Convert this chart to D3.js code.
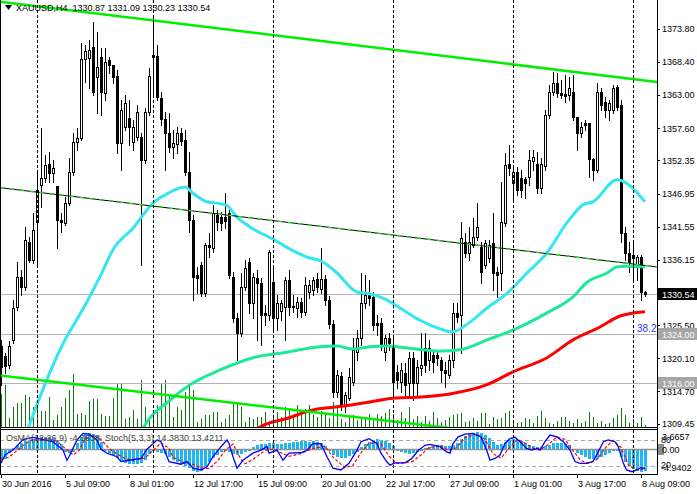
<!DOCTYPE html>
<html><head><meta charset="utf-8">
<script src="https://cdn.jsdelivr.net/npm/d3@7/dist/d3.min.js"></script>
<style>
html,body{margin:0;padding:0;background:#fff;overflow:hidden}
svg{display:block}
text{font-family:"Liberation Sans",Arial,sans-serif;font-size:9px}
</style>
</head><body>
<svg id="c" width="697" height="494"></svg>
<script>
// ---------- DATA ----------
const openP = [1322.1,1320.5,1319.0,1323.1,1328.5,1333.4,1331.7,1339.1,1336.1,1342.3,1348.3,1349.5,1351.8,1350.3,1348.2,1342.6,1342.2,1345.4,1350.5,1355.4,
1356.0,1368.9,1369.0,1370.8,1365.9,1369.2,1363.3,1368.7,1367.9,1366.1,1355.2,1357.8,1359.3,1355.4,1356.2,1356.2,1352.4,1360.2,1369.2,1369.4,
1362.5,1359.1,1356.8,1354.5,1355.0,1356.8,1355.7,1350.5,1342.6,1333.7,1335.3,1330.7,1338.6,1338.1,1343.5,1343.1,1343.1,1343.8,1333.4,1326.7,
1324.2,1331.7,1335.8,1329.1,1333.2,1332.4,1327.5,1327.2,1332.5,1326.7,1327.8,1328.5,1332.9,1328.6,1328.3,1329.3,1327.6,1330.9,1331.2,1333.0,
1331.4,1333.0,1329.6,1325.7,1314.6,1317.2,1312.5,1313.6,1316.2,1321.1,1323.4,1329.1,1330.4,1330.1,1325.9,1325.9,1321.1,1323.4,1322.3,1317.9,
1316.2,1317.7,1316.1,1320.2,1316.1,1318.5,1321.8,1319.8,1320.6,1320.6,1319.8,1318.2,1317.4,1319.8,1327.5,1327.2,1339.1,1337.3,1338.6,1339.9,
1338.2,1335.3,1336.4,1338.9,1334.2,1334.0,1342.2,1351.8,1348.7,1350.5,1349.5,1349.3,1349.6,1352.3,1351.8,1347.9,1351.4,1359.7,1363.5,1365.0,
1363.3,1363.2,1363.0,1363.5,1359.4,1356.8,1358.4,1358.4,1352.6,1350.8,1363.5,1361.9,1360.6,1360.6,1364.3,1361.4,1340.5,1337.3,1336.9,1335.3,
1336.6,1330.87];
const highP = [1323.1,1321.0,1322.9,1329.6,1335.8,1334.5,1341.5,1339.9,1343.8,1350.3,1357.6,1353.2,1353.7,1352.4,1348.2,1343.8,1346.4,1352.7,1356.8,1357.6,
1371.5,1371.1,1372.0,1374.9,1373.3,1370.7,1370.7,1369.2,1367.9,1367.1,1362.2,1363.0,1362.2,1358.9,1361.4,1356.8,1360.9,1367.4,1375.7,1371.1,
1363.5,1360.2,1360.1,1357.3,1357.8,1357.6,1357.3,1353.7,1343.5,1335.0,1335.8,1338.9,1340.5,1345.1,1344.3,1343.9,1347.0,1344.3,1334.2,1327.5,
1334.0,1336.1,1336.4,1334.0,1334.5,1333.2,1328.8,1337.8,1335.3,1330.4,1329.6,1333.4,1334.5,1330.4,1330.1,1329.9,1333.4,1332.9,1333.4,1334.0,
1338.1,1333.7,1330.3,1326.3,1318.2,1317.9,1314.6,1318.5,1323.4,1324.7,1334.0,1333.7,1332.9,1330.9,1327.2,1326.7,1323.9,1324.2,1323.6,1319.0,
1319.3,1319.3,1321.1,1321.1,1319.8,1324.2,1324.2,1323.1,1321.5,1321.5,1320.3,1319.5,1320.6,1329.1,1329.1,1342.3,1340.5,1341.5,1343.0,1345.4,
1339.1,1339.4,1339.4,1343.8,1335.0,1348.8,1353.6,1354.9,1351.3,1351.3,1350.8,1349.6,1354.0,1354.0,1353.7,1352.7,1360.6,1364.6,1366.7,1366.6,
1365.4,1366.3,1365.9,1366.3,1359.4,1358.6,1358.9,1358.4,1352.7,1365.0,1364.1,1362.7,1362.2,1364.6,1364.6,1362.2,1341.5,1339.1,1339.4,1336.9,
1336.9,1331.09];
const lowP = [1315.8,1317.7,1318.5,1322.6,1328.0,1330.4,1331.2,1335.8,1335.6,1335.3,1344.8,1348.8,1348.8,1348.8,1338.1,1340.7,1341.8,1345.1,1350.0,1354.0,
1355.7,1365.1,1364.1,1363.0,1360.1,1359.7,1362.2,1366.6,1365.0,1353.6,1350.8,1357.3,1354.9,1354.0,1355.7,1335.3,1351.9,1359.7,1362.7,1362.2,
1358.1,1350.8,1353.7,1352.7,1353.6,1354.9,1350.0,1340.7,1329.6,1330.7,1330.3,1330.3,1336.6,1337.4,1341.0,1341.0,1341.3,1333.2,1326.0,1319.8,
1323.7,1331.2,1327.5,1326.7,1323.1,1322.3,1325.5,1326.3,1324.4,1324.7,1326.3,1323.1,1327.2,1327.6,1326.8,1326.8,1327.2,1329.9,1330.4,1330.9,
1330.7,1328.8,1325.0,1313.8,1313.8,1311.7,1311.4,1313.3,1315.8,1319.8,1322.3,1328.3,1328.8,1324.7,1323.9,1321.5,1319.8,1321.5,1313.8,1315.3,
1314.6,1313.6,1313.6,1313.3,1314.1,1317.4,1317.9,1318.2,1317.9,1319.0,1316.2,1315.4,1316.9,1318.7,1326.0,1321.0,1336.6,1336.1,1338.2,1339.4,
1332.4,1334.8,1335.8,1331.2,1330.1,1331.2,1341.7,1350.0,1345.9,1346.7,1346.4,1346.2,1348.3,1350.8,1347.0,1347.0,1350.8,1359.3,1363.0,1362.7,
1362.5,1361.9,1362.2,1358.9,1354.0,1356.2,1357.3,1349.6,1349.2,1350.5,1360.6,1359.4,1358.9,1360.1,1360.6,1339.1,1336.1,1334.2,1332.9,1332.9,
1329.6,1330.23];
const closeP = [1318.7,1318.9,1322.1,1328.3,1333.4,1331.7,1339.4,1336.1,1341.0,1347.5,1349.5,1351.6,1350.3,1351.1,1342.6,1342.3,1345.4,1350.5,1355.4,1356.0,
1368.9,1370.2,1370.3,1363.5,1367.6,1363.5,1368.4,1367.9,1365.9,1355.2,1360.6,1361.7,1357.8,1357.8,1360.2,1352.4,1360.2,1366.1,1369.5,1362.7,
1359.1,1356.8,1354.5,1355.2,1356.8,1355.5,1350.5,1342.6,1333.4,1333.2,1330.7,1338.6,1338.2,1343.8,1342.3,1342.2,1342.5,1333.7,1326.7,1324.2,
1331.7,1334.8,1329.1,1333.4,1332.4,1327.2,1327.2,1337.4,1326.7,1329.1,1329.1,1332.9,1328.5,1328.5,1329.3,1327.6,1332.1,1332.1,1332.9,1331.7,
1333.0,1329.6,1325.7,1314.6,1317.4,1312.5,1314.1,1317.1,1321.5,1323.4,1329.1,1330.4,1329.9,1325.5,1325.5,1322.3,1323.4,1322.6,1316.2,1316.6,
1318.2,1315.8,1320.2,1316.1,1318.7,1319.0,1319.0,1321.8,1319.5,1320.2,1318.2,1317.7,1319.8,1327.5,1326.8,1339.7,1337.3,1339.1,1339.9,1341.5,
1334.2,1338.9,1338.6,1334.0,1333.7,1342.3,1351.6,1351.1,1350.5,1347.5,1347.5,1348.7,1352.4,1352.9,1347.9,1351.8,1359.7,1363.5,1365.0,1363.3,
1363.0,1362.8,1364.1,1359.4,1356.8,1357.8,1358.1,1352.6,1350.8,1363.5,1361.4,1360.6,1361.7,1364.1,1361.0,1340.5,1337.3,1335.8,1336.4,1336.6,
1330.9,1330.54];
const volume = [3300,4200,900,2000,2400,2400,3200,3000,2000,2300,1600,1600,3000,700,1200,2000,2900,3700,5300,1300,1400,1200,2600,2800,2800,1300,1100,1100,2900,4400,
4300,800,1000,1700,800,4700,2000,900,1100,2200,
4300,4700,3200,1000,2000,1700,3500,4200,3700,500,
800,1200,1200,1500,1500,500,800,1200,2400,2400,
2000,500,1000,800,1000,1000,1500,300,1200,1500,
1000,2000,1600,1200,2200,1400,1800,2200,1200,1000,
1600,1400,900,2500,2000,
800,500,1000,1200,700,800,900,1300,900,1300,1100,1400,1800,1300,700,1500,900,2000,800,1100,500,1100,600,1500,900,
500,700,1000,1200,1300,1400,500,600,900,600,1400,1400,300,1000,800,900,1400,1600,400,400,500,900,800,400,1100,1600,900,400,300,600,
1000,1000,600,400,800,400,600,1500,1000,400,600,300,400,900,1200,1900,1200,400,800,400,1000,200];
// moving averages read as [bar, price]
const maFast = [[5.75,1306.8],[9.25,1313.0],[14.75,1321.5],[21.75,1329.6],[24.75,1333.4],[28,1337.8],[33,1341.3],[38,1345.4],[41.5,1346.9],[46,1348.0],
[48,1347.0],[51.5,1345.6],[54.75,1345.3],[56.5,1345.0],[59,1343.1],[62.25,1341.5],[68,1339.5],[72.25,1337.9],[76.5,1336.6],[80.5,1335.8],[84,1334.0],
[89,1330.9],[91.5,1330.7],[95.5,1329.9],[99.75,1328.3],[104.75,1326.3],[109.75,1324.9],[112.75,1324.4],[117.25,1326.0],[121.5,1328.3],[126.5,1330.7],
[131.5,1334.0],[136.5,1337.3],[141.5,1342.2],[145.5,1345.1],[148,1345.6],[154,1349.2],[161,1345.6]];
const maMid = [[33.5,1306.0],[35.5,1308.7],[42.25,1313.3],[47.25,1315.8],[54.75,1318.2],[63,1320.2],[71.5,1321.1],[79.75,1322.0],[84,1322.1],[88,1321.6],
[92.25,1322.0],[96.5,1322.1],[101.5,1321.8],[109.75,1321.3],[114.75,1321.5],[121.5,1323.1],[128,1324.7],[136.5,1327.5],[143,1330.1],[146.5,1332.5],
[151.5,1334.0],[154,1335.0],[156.5,1335.1],[161,1335.0]];
const maSlow = [[62.25,1307.3],[64.75,1308.9],[71.5,1310.3],[78,1311.7],[84,1312.2],[92.25,1313.0],[98,1313.6],[104.75,1313.8],[112.25,1314.3],
[121.5,1315.8],[128,1317.9],[136.5,1320.2],[143,1323.1],[149.75,1325.2],[154.75,1327.0],[161,1327.7]];
// trend lines [bar, price]
const trendUpper = [[-0.25,1378.2],[164,1365.1]];
const trendMiddle = [[-0.25,1347.9],[164,1335.0]];
const trendLower = [[-0.25,1317.3],[164,1304.8]];
const levels = [1330.54, 1324.00, 1316.00];
const fiboLabel = "38.2";
// oscillator
const osma = [-2.4,-2.0,-0.8,0.3,0.8,1.2,1.6,1.9,2.1,2.3,2.5,2.5,2.4,2.2,1.8,1.0,-0.6,-0.8,-0.5,
1.2,2.4,3.0,3.2,3.1,2.6,1.4,-0.4,-0.8,-1.2,-1.8,-2.3,-2.7,-2.9,-3.0,-3.0,-2.8,-2.2,-1.0,
-0.4,-0.5,-0.7,-1.0,-1.6,-2.2,-2.6,-2.9,-3.3,-3.8,-4.3,-4.4,-4.2,-3.6,-2.6,-1.8,-1.2,-0.6,-0.3,
-0.6,-1.0,-1.2,-1.0,-0.6,-0.3,0.4,0.8,1.0,1.1,1.2,1.2,1.1,1.1,1.2,1.3,1.4,1.5,1.6,1.6,1.5,1.6,1.5,1.2,0.6,-0.4,-1.2,-1.6,
-1.8,-1.7,-1.4,-1.0,-0.5,
0.4,1.0,1.5,1.9,2.0,1.9,1.6,1.2,0.6,
-0.3,-0.6,-0.8,-0.9,-0.8,-0.6,-0.3,
0.2,0.5,0.7,0.8,0.8,0.7,0.6,0.8,
1.3,2.0,2.6,3.0,3.3,3.4,3.2,2.8,2.2,1.5,0.9,
1.0,1.4,1.8,2.0,1.9,1.6,1.2,
0.8,0.6,0.5,0.5,0.6,
0.9,1.2,1.3,1.3,1.1,0.8,
-0.2,-0.7,-1.2,-1.6,-1.9,-2.0,-1.9,-1.6,-1.2,-0.8,-0.4,
-0.3,
-1.5,-2.6,-3.4,-3.9,-4.3,-4.5,-4.36];
const stochMain = [[0,26],[1,45],[3,56],[5.5,80],[8,85],[10.5,80],[13,75],[15.5,56],[16.5,33],[17,41],[19,79],[20.5,94],[22,92],[24,79],[25,58],
[26.5,49],[29,41],[30,30],[32,33],[35,37],[36.5,58],[39,79],[40,75],[40.5,64],[41.5,41],[42,30],[45,24],[46.5,30],[48,15],[50,11],[51.5,18],[53,41],
[55,64],[56.5,79],[57,71],[58,41],[59,15],[60.5,33],[63,49],[65,56],[66.5,64],[67,49],[69,56],[70.5,33],[72,49],[75,50],[76.5,56],[78,71],[80,70],
[81.5,41],[83,15],[85,11],[87,26],[89,56],[90,75],[92,82],[94,71],[95,49],[96.4,30],[97.25,22],[98.5,27],[101,27],[102.7,37],[104.3,55],[106,67],
[107.25,69],[109.75,64],[111.4,52],[112.25,49],[113,71],[114.3,86],[116,92],[118,94],[120,86],[121.4,56],[122.25,33],[123.5,37],[124.75,45],[126,71],
[127.25,82],[128.5,85],[129.75,75],[131.4,60],[132.7,56],[134,60],[134.75,56],[136,75],[137.25,90],[139,86],[140.6,75],[142.25,56],[143.5,30],
[144.75,26],[146.4,26],[148,30],[149.3,52],[150.6,75],[151.8,79],[153.5,75],[154.3,64],[155.6,26],[156.4,11],[157.7,7],[159,11],[160,16],[161,14.38]];
const stochSignal = [[0,35],[2,40],[4,55],[6,70],[8,80],[11,83],[14,76],[16,60],[18,45],[19.5,55],[21,80],[23,90],[25,80],[27,60],[29,47],[31,37],
[33,33],[36,38],[38,55],[40,72],[42,60],[43,40],[46,27],[48,24],[50,15],[52,14],[54,30],[56,55],[58,70],[60,35],[61,25],[63,35],[66,55],[68,58],
[70,50],[72,42],[75,48],[78,60],[81,65],[83,40],[86,16],[88,22],[90,50],[92,72],[95,70],[97,42],[99,26],[101,27],[103,31],[105,45],[107,62],
[110,66],[112,55],[114,62],[116,85],[119,92],[121,80],[123,48],[125,38],[127,60],[129,80],[131,72],[133,60],[135,58],[137,70],[139,86],[141,80],
[143,55],[145,32],[147,26],[149,35],[151,60],[153,78],[155,62],[157,20],[159,11],[161,13.42]];
// axis labels
const priceTicks = [1373.80,1368.40,1363.00,1357.60,1352.35,1346.95,1341.55,1336.15,1325.50,1320.10,1314.70,1309.45];
const timeLabels = [[0,"30 Jun 2016"],[16,"5 Jul 09:00"],[32,"8 Jul 01:00"],[48,"12 Jul 17:00"],[64,"15 Jul 09:00"],[80,"20 Jul 01:00"],
[96,"22 Jul 17:00"],[112,"27 Jul 09:00"],[128,"1 Aug 01:00"],[144,"3 Aug 17:00"],[160,"8 Aug 09:00"]];
const weekSeparators = [9,38,68,98,128,158];
const headerText = "XAUUSD,H4  1330.87 1331.09 1330.23 1330.54";
const oscText = "OsMA(12,26,9) -4.3638  Stoch(5,3,3) 14.3830 13.4211";

// ---------- DRAW ----------
const svg = d3.select("#c");
const W = 697, PR = 657, MB = 427, OT = 429, OB = 474;
const x = d3.scaleLinear().domain([0,161]).range([1,645]);
const y = d3.scaleLinear().domain([1309.45,1373.80]).range([423.7,28.7]);
const yVol = d3.scaleLinear().domain([0,6000]).range([0,60]);
const yStoch = d3.scaleLinear().domain([0,100]).range([474.8,430.7]);
const yOsma = d3.scaleLinear().domain([-4.9402,3.6657]).range([474.8,430.7]);

const defs = svg.append("defs");
defs.append("clipPath").attr("id","mainClip").append("rect").attr("x",0).attr("y",0).attr("width",PR).attr("height",MB);
defs.append("clipPath").attr("id","oscClip").append("rect").attr("x",1).attr("y",OT+1).attr("width",PR-1).attr("height",OB-OT-1);

svg.append("rect").attr("width",W).attr("height",494).attr("fill","#fff");

const main = svg.append("g").attr("clip-path","url(#mainClip)");
const osc = svg.append("g").attr("clip-path","url(#oscClip)");

// volumes
main.append("g").attr("shape-rendering","crispEdges").selectAll("rect").data(volume).join("rect")
  .attr("x",(d,i)=>Math.round(x(i))).attr("width",1)
  .attr("y",d=>MB-Math.round(yVol(d))).attr("height",d=>Math.round(yVol(d)))
  .attr("fill","#117711");

// horizontal levels
main.append("g").selectAll("line").data(levels).join("line")
  .attr("x1",0).attr("x2",PR).attr("y1",d=>Math.round(y(d))+0.5).attr("y2",d=>Math.round(y(d))+0.5)
  .attr("stroke","#b4b4b4").attr("stroke-width",1);

// week separators
svg.append("g").selectAll("line").data(weekSeparators).join("line")
  .attr("x1",d=>Math.round(x(d))+0.5).attr("x2",d=>Math.round(x(d))+0.5)
  .attr("y1",0).attr("y2",OB).attr("stroke","#000").attr("stroke-width",1).attr("stroke-dasharray","3,2");

// candles
const idx = d3.range(openP.length);
const cg = main.append("g").attr("shape-rendering","crispEdges");
cg.selectAll("rect.w").data(idx).join("rect").attr("class","w")
  .attr("x",i=>Math.round(x(i))).attr("width",1)
  .attr("y",i=>Math.round(y(highP[i])))
  .attr("height",i=>Math.round(y(lowP[i]))-Math.round(y(highP[i]))+1)
  .attr("fill","#000");
cg.selectAll("rect.b").data(idx).join("rect").attr("class","b")
  .each(function(i){
    const cx = Math.round(x(i));
    const top = Math.round(y(Math.max(openP[i],closeP[i])));
    const bot = Math.round(y(Math.min(openP[i],closeP[i])));
    const s = d3.select(this);
    if (closeP[i] < openP[i]) {
      s.attr("x",cx-1).attr("width",3).attr("y",top).attr("height",Math.max(1,bot-top+1)).attr("fill","#000");
    } else {
      s.attr("x",cx-0.5).attr("width",2).attr("y",top+0.5).attr("height",Math.max(0,bot-top))
       .attr("fill","#fff").attr("stroke","#000").attr("stroke-width",1);
    }
  });

// moving averages
const line = d3.line().x(d=>x(d[0])).y(d=>y(d[1])).curve(d3.curveMonotoneX);
main.append("path").datum(maSlow).attr("d",line).attr("fill","none").attr("stroke","#ff0000").attr("stroke-width",3);
main.append("path").datum(maMid).attr("d",line).attr("fill","none").attr("stroke","#1ee89a").attr("stroke-width",3);
main.append("path").datum(maFast).attr("d",line).attr("fill","none").attr("stroke","#33e6f0").attr("stroke-width",3);

// trend lines
const tl = d3.line().x(d=>x(d[0])).y(d=>y(d[1]));
main.append("path").datum(trendUpper).attr("d",tl).attr("stroke","#00ee00").attr("stroke-width",2.5).attr("fill","none");
main.append("path").datum(trendLower).attr("d",tl).attr("stroke","#00ee00").attr("stroke-width",2.5).attr("fill","none");
main.append("path").datum(trendMiddle).attr("d",tl).attr("stroke","#000").attr("stroke-width",1).attr("fill","none");
main.append("path").datum(trendMiddle).attr("d",tl).attr("stroke","#22dd22").attr("stroke-width",1.5).attr("stroke-dasharray","4,6").attr("fill","none");

// fibo label
svg.append("text").attr("x",637).attr("y",332).attr("fill","#3333ff").style("font-size","10px").text(fiboLabel);

// header
svg.append("path").attr("d","M5,5 L12,5 L8.5,10 Z").attr("fill","#000");
svg.append("text").attr("x",16).attr("y",11).attr("fill","#000").attr("xml:space","preserve").text(headerText);

// ---------- oscillator ----------
osc.append("g").attr("shape-rendering","crispEdges").selectAll("rect").data(osma).join("rect")
  .attr("x",(d,i)=>Math.round(x(i))-1).attr("width",3)
  .attr("y",d=>Math.round(Math.min(yOsma(d),yOsma(0))))
  .attr("height",d=>Math.max(1,Math.round(Math.abs(yOsma(d)-yOsma(0)))))
  .attr("fill","#1fb6f2");
osc.append("line").attr("x1",0).attr("x2",PR).attr("y1",yOsma(0)).attr("y2",yOsma(0)).attr("stroke","#909090").attr("stroke-width",1.5);
[80,20].forEach(v=>{
  osc.append("line").attr("x1",0).attr("x2",PR).attr("y1",Math.round(yStoch(v))+0.5).attr("y2",Math.round(yStoch(v))+0.5)
    .attr("stroke","#a8a8a8").attr("stroke-dasharray","4,3");
});
svg.append("text").attr("x",6).attr("y",441).attr("fill","#444").attr("xml:space","preserve").text(oscText);
const sl = d3.line().x(d=>x(d[0])).y(d=>yStoch(d[1]));
osc.append("path").datum(stochSignal).attr("d",sl).attr("fill","none").attr("stroke","#ff0000").attr("stroke-width",1.2).attr("stroke-dasharray","3,2");
osc.append("path").datum(stochMain).attr("d",sl).attr("fill","none").attr("stroke","#0000ff").attr("stroke-width",1.3);

// ---------- frame ----------
const fr = svg.append("g").attr("stroke","#000").attr("stroke-width",1).attr("shape-rendering","crispEdges");
fr.append("line").attr("x1",0.5).attr("x2",0.5).attr("y1",0).attr("y2",OB+1);
fr.append("line").attr("x1",PR+0.5).attr("x2",PR+0.5).attr("y1",0).attr("y2",OB+1);
fr.append("line").attr("x1",0).attr("x2",PR).attr("y1",MB+0.5).attr("y2",MB+0.5);
fr.append("line").attr("x1",0).attr("x2",PR).attr("y1",OT+0.5).attr("y2",OT+0.5);
fr.append("line").attr("x1",0).attr("x2",PR).attr("y1",OB+0.5).attr("y2",OB+0.5);

// right price axis
const pa = svg.append("g");
pa.selectAll("line").data(priceTicks).join("line")
  .attr("x1",PR).attr("x2",PR+3).attr("y1",d=>Math.round(y(d))+0.5).attr("y2",d=>Math.round(y(d))+0.5).attr("stroke","#000");
pa.selectAll("text").data(priceTicks).join("text")
  .attr("x",PR+5).attr("y",d=>y(d)+3.5).attr("fill","#000").text(d=>d.toFixed(2));
// level boxes
const boxes = [[levels[1],"#a6a6a6"],[levels[2],"#a6a6a6"],[levels[0],"#000"]];
boxes.forEach(([v,c])=>{
  const yy = Math.round(y(v));
  svg.append("rect").attr("x",PR+1).attr("y",yy-6).attr("width",W-PR-1).attr("height",12).attr("fill",c);
  svg.append("text").attr("x",PR+5).attr("y",yy+3.5).attr("fill","#fff").text(v.toFixed(2));
});

// oscillator axis labels (overlapping pairs as in the original terminal)
svg.append("text").attr("x",PR+5).attr("y",440).attr("fill","#000").text("3.6657");
svg.append("text").attr("x",PR+4).attr("y",443).attr("fill","#000").text("80");
svg.append("rect").attr("x",PR+1).attr("y",yOsma(0)-5.5).attr("width",6).attr("height",11).attr("fill","#8c8c8c");
svg.append("text").attr("x",PR+5).attr("y",yOsma(0)+3.5).attr("fill","#000").text("0.00");
svg.append("text").attr("x",PR+4).attr("y",468).attr("fill","#000").text("20");
svg.append("text").attr("x",PR+4).attr("y",471).attr("fill","#000").text("-4.9402");

// bottom time axis
const ta = svg.append("g");
ta.selectAll("line").data(timeLabels).join("line")
  .attr("x1",d=>Math.round(x(d[0]))+0.5).attr("x2",d=>Math.round(x(d[0]))+0.5)
  .attr("y1",OB).attr("y2",OB+4).attr("stroke","#000");
ta.selectAll("text").data(timeLabels).join("text")
  .attr("x",d=>x(d[0])+1).attr("y",487).attr("fill","#000").text(d=>d[1]);
</script>
</body></html>
